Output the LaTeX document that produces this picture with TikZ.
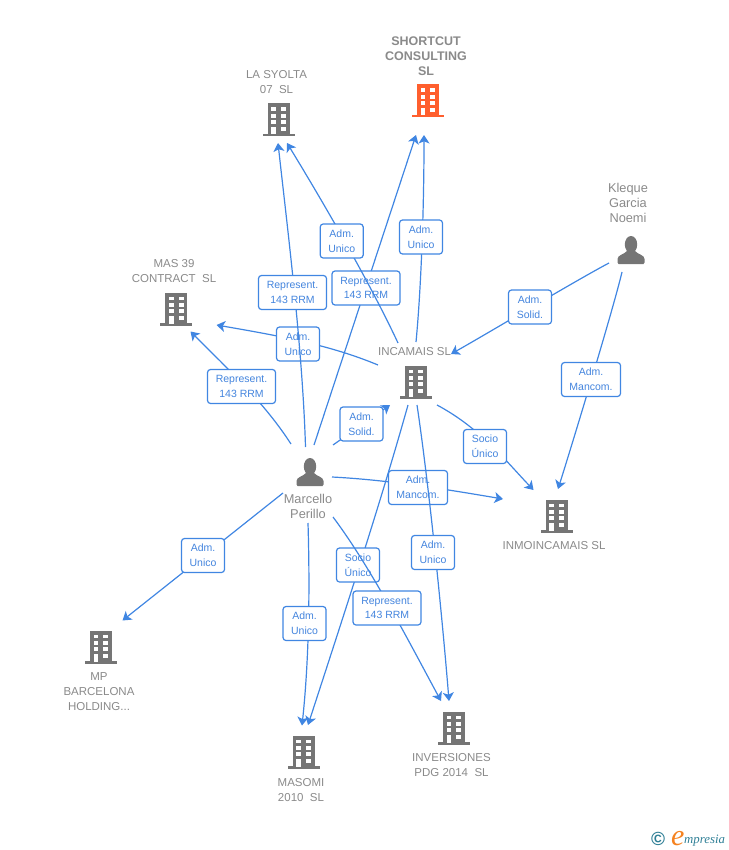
\documentclass[tikz,border=0pt]{standalone}
\usepackage{fontspec}
\setmainfont{Liberation Sans}
\newfontfamily\logofont{Liberation Serif}
\usetikzlibrary{arrows.meta}
\definecolor{edgeblue}{HTML}{4086E2}
\definecolor{labelblue}{HTML}{4485DE}
\definecolor{icongray}{HTML}{757575}
\definecolor{textgray}{HTML}{8A8A8A}
\definecolor{iconorange}{HTML}{FF5F2E}
\definecolor{logoteal}{HTML}{2F7F96}
\definecolor{logoorange}{HTML}{F58220}
\tikzset{
  x=1pt,y=-1pt,
  edge/.style={draw=edgeblue,line width=1.2pt,-{Stealth[length=8.5pt,width=11pt,inset=2.2pt]}},
  lbl/.style={draw=edgeblue,line width=1.2pt,rounded corners=3pt,fill=white,text=labelblue,
    font=\fontsize{10.5}{14.6}\selectfont,align=center,inner sep=0pt,minimum height=34pt},
  lblA/.style={lbl,minimum width=43pt},
  lblM/.style={lbl,minimum width=59pt},
  lblR/.style={lbl,minimum width=68pt},
  name text/.style={text=textgray,font=\fontsize{11.5}{15}\selectfont,align=center,inner sep=0pt},
  bold text/.style={text=textgray,font=\fontsize{12.5}{15}\selectfont\bfseries,align=center,inner sep=0pt},
  person text/.style={text=textgray,font=\fontsize{12.8}{15}\selectfont,align=center,inner sep=0pt},
  pics/bldg/.style={code={
    \fill[#1] (-11,-16.5) rectangle (11,15);
    \fill[#1] (-16,14) rectangle (16,16.5);
    \fill[white] (-7.2,-12.5) rectangle (-2.6,-8.6);
    \fill[white] (2.4,-12.5) rectangle (7.2,-8.6);
    \fill[white] (-7.2,-6) rectangle (-2.6,-2.1);
    \fill[white] (2.4,-6) rectangle (7.2,-2.1);
    \fill[white] (-7.2,0.2) rectangle (-2.6,4.1);
    \fill[white] (2.4,0.2) rectangle (7.2,4.1);
    \fill[white] (-7.2,6.6) rectangle (-2.6,14.5);
    \fill[white] (2.4,6.6) rectangle (7.2,10.8);
  }},
  pics/person/.style={code={
    \fill[icongray] (0,-5.5) ellipse (6.2pt and 8.5pt);
    \fill[icongray] (-12.5,14) .. controls (-13.5,14) and (-13.5,13.5) .. (-13.5,12.5)
       -- (-13.5,9) .. controls (-13.5,5) and (-7,4.5) .. (-4,1)
       -- (4,1) .. controls (7,4.5) and (13.5,5) .. (13.5,9) -- (13.5,12.5)
       .. controls (13.5,13.5) and (13.5,14) .. (12.5,14) -- cycle;
  }}
}
\begin{document}
\begin{tikzpicture}
\useasboundingbox (0,0) rectangle (728,850);
% anchors of the icons
\node[inner sep=0pt] (shortcut) at (428,101) {};
\node[inner sep=0pt] (syolta) at (278.5,120) {};
\node[inner sep=0pt] (mas) at (176.3,309) {};
\node[inner sep=0pt] (incamais) at (416,382) {};
\node[inner sep=0pt] (inmo) at (556.5,516) {};
\node[inner sep=0pt] (mp) at (101,647) {};
\node[inner sep=0pt] (masomi) at (303.5,752) {};
\node[inner sep=0pt] (invers) at (454,728) {};
\node[inner sep=0pt] (kleque) at (631,250) {};
\node[inner sep=0pt] (marcello) at (310,472) {};
% connector ends
\coordinate (eA1) at (305.5,447); \coordinate (eA2) at (278,143);
\coordinate (eB1) at (398,343);   \coordinate (eB2) at (287,143);
\coordinate (eC1) at (314,445);   \coordinate (eC2) at (416,135);
\coordinate (eD1) at (416,342);   \coordinate (eD2) at (424,135);
\coordinate (eE1) at (609,263);   \coordinate (eE2) at (451,354);
\coordinate (eF1) at (622,272);   \coordinate (eF2) at (558,489);
\coordinate (eG1) at (378,365);   \coordinate (eG2) at (216.5,325);
\coordinate (eH1) at (291,444);   \coordinate (eH2) at (190.5,331.5);
\coordinate (eI1) at (333,445);   \coordinate (eI2) at (390,405);
\coordinate (eJ1) at (437,405);   \coordinate (eJ2) at (533.5,490);
\coordinate (eK1) at (332,477);   \coordinate (eK2) at (503,499);
\coordinate (eL1) at (417,405);   \coordinate (eL2) at (449,701);
\coordinate (eM1) at (408,405);   \coordinate (eM2) at (308,725);
\coordinate (eN1) at (333,517);   \coordinate (eN2) at (441,701);
\coordinate (eO1) at (308,523);   \coordinate (eO2) at (302,725.5);
\coordinate (eP1) at (283,493);   \coordinate (eP2) at (122.5,620.5);
% connectors and their labels, in stacking order
\draw[edge] (eC1) -- (eC2);
\node[lblR] (l4) at (366,288) {Represent.\\143 RRM};
\draw[edge] (eB1) .. controls (370,283) and (323.6,203) .. (eB2);
\node[lblA] (l1) at (341.7,241) {Adm.\\Unico};
\draw[edge] (eD1) .. controls (421,290) and (424,210) .. (eD2);
\node[lblA] (l2) at (421,237) {Adm.\\Unico};
\draw[edge] (eE1) .. controls (575,281) and (490,332) .. (eE2);
\node[lblA] (l5) at (530,307) {Adm.\\Solid.};
\draw[edge] (eF1) .. controls (613,310) and (571,448) .. (eF2);
\node[lblM] (l8) at (591,379.5) {Adm.\\Mancom.};
\draw[edge] (eG1) .. controls (330,345) and (280,336) .. (eG2);
\node[lblA] (l6) at (298,344) {Adm.\\Unico};
\draw[edge] (eA1) .. controls (302.5,347) and (286.8,223) .. (eA2);
\node[lblR] (l3) at (292.5,292.5) {Represent.\\143 RRM};
\draw[edge] (eH1) .. controls (265,404) and (235.7,376.7) .. (eH2);
\node[lblR] (l7) at (241.5,386.5) {Represent.\\143 RRM};
\draw[edge] (eI1) -- (eI2);
\node[lblA] (l9) at (361.5,424) {Adm.\\Solid.};
\draw[edge] (eJ1) .. controls (480,428) and (505,460) .. (eJ2);
\node[lblA] (l10) at (485,446.5) {Socio\\Único};
\draw[edge] (eM1) .. controls (380,505) and (340.5,625) .. (eM2);
\node[lblA] (l14) at (358,565) {Socio\\Único};
\draw[edge] (eK1) .. controls (390,480) and (450,490) .. (eK2);
\node[lblM] (l11) at (418,487.5) {Adm.\\Mancom.};
\draw[edge] (eL1) .. controls (429,485) and (442.6,621) .. (eL2);
\node[lblA] (l12) at (433,552.5) {Adm.\\Unico};
\draw[edge] (eN1) .. controls (370.5,567) and (408.6,641) .. (eN2);
\node[lblR] (l15) at (387,608) {Represent.\\143 RRM};
\draw[edge] (eO1) .. controls (310,590) and (309,660) .. (eO2);
\node[lblA] (l16) at (304.5,623.5) {Adm.\\Unico};
\draw[edge] (eP1) -- (eP2);
\node[lblA] (l13) at (203,555.5) {Adm.\\Unico};
% icons
\pic at (shortcut) {bldg=iconorange};
\pic at (syolta) {bldg=icongray};
\pic at (mas) {bldg=icongray};
\pic at (incamais) {bldg=icongray};
\pic at (inmo) {bldg=icongray};
\pic at (mp) {bldg=icongray};
\pic at (masomi) {bldg=icongray};
\pic at (invers) {bldg=icongray};
\pic at (kleque) {person};
\pic at (marcello) {person};
% names
\node[bold text] (tshort) at (426,56) {SHORTCUT\\CONSULTING\\SL};
\node[name text] (tsyolta) at (276.5,82.5) {LA SYOLTA\\07\ \ SL};
\node[name text] (tmas) at (174,271) {MAS 39\\CONTRACT\ \ SL};
\node[name text] (tinc) at (414.5,352) {INCAMAIS SL};
\node[name text] (tinmo) at (554,545.5) {INMOINCAMAIS SL};
\node[name text] (tmp) at (99,692) {MP\\BARCELONA\\HOLDING...};
\node[name text] (tmasomi) at (301,790.5) {MASOMI\\2010\ \ SL};
\node[name text] (tinv) at (451.5,765.5) {INVERSIONES\\PDG 2014\ \ SL};
\node[person text] (tkl) at (628,203) {Kleque\\Garcia\\Noemi};
\node[person text] (tmar) at (308,506.5) {Marcello\\Perillo};
% logo
\node[text=logoteal,font=\fontsize{19}{19}\selectfont\bfseries,inner sep=0pt] (copy) at (658,839) {©};
\node[text=logoorange,font=\logofont\fontsize{30}{30}\selectfont\itshape,anchor=base west,inner sep=0pt] (loge) at (671,845) {e};
\node[text=logoteal,font=\logofont\fontsize{12.8}{14}\selectfont\itshape,anchor=base west,inner sep=0pt] (logt) at (684,843) {mpresia};
\end{tikzpicture}
\end{document}
